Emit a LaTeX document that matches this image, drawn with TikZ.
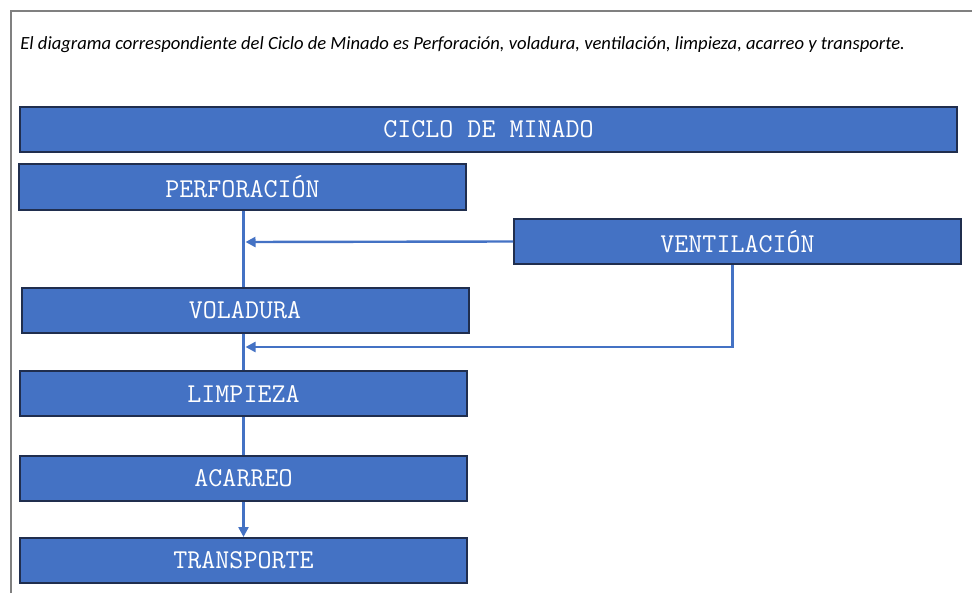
\documentclass[tikz,border=0pt]{standalone}
\usepackage{fontspec}
\usepackage{xcolor}
\usepackage{tikz}
\usetikzlibrary{arrows.meta, positioning, calc}
\newfontfamily\captionfont{Carlito}
\definecolor{officeblue}{RGB}{68, 114, 196}
\definecolor{darknavy}{RGB}{32, 46, 78}
\definecolor{framegray}{RGB}{128, 128, 128}
\tikzstyle{stage} = [
    rectangle,
    minimum width=223.5pt,
    minimum height=22.5pt,
    inner sep=0pt,
    text centered,
    draw=darknavy,
    line width=1pt,
    fill=officeblue,
    text=white,
    font=\ttfamily\fontsize{13.6}{15}\selectfont
]
\tikzstyle{link} = [
    line width=1.2pt,
    color=officeblue
]
\tikzstyle{arrow} = [
    link,
    -{Triangle[length=5pt, width=5pt]}
]

\begin{document}
\begin{tikzpicture}[x=0.5pt, y=-0.5pt]
        \useasboundingbox (0,0) rectangle (972,593);
        % Frame
        \draw[framegray, line width=1pt] (11,593) -- (11,11) -- (972,11);
        
        % Caption
        \node[anchor=west, inner sep=0pt, font=\captionfont\itshape\fontsize{9.3}{11}\selectfont] (caption) at (20,45)
            {El diagrama correspondiente del Ciclo de Minado es Perforación, voladura, ventilación, limpieza, acarreo y transporte.};
        
        % Title bar
        \node[stage, minimum width=468.5pt] (ciclo) at (488.5,129.5) {CICLO DE MINADO};
        
        % Stages
        \node[stage] (perf) at (242.5,187) {PERFORACIÓN};
        \node[stage] (vent) at (737.5,241.5) {VENTILACIÓN};
        \node[stage] (volad) at (245,310.5) {VOLADURA};
        \node[stage] (limp) at (243.5,393.5) {LIMPIEZA};
        \node[stage] (acarr) at (243.5,478.5) {ACARREO};
        \node[stage] (transp) at (243.5,560.5) {TRANSPORTE};
        
        % Junctions on the spine
        \coordinate (j1) at (243.5,242);
        \coordinate (j2) at (243.5,347);
        
        % Spine
        \draw[link] (perf.south -| j1) -- (volad.north -| j1);
        \draw[link] (volad.south -| j2) -- (limp.north -| j2);
        \draw[link] (limp) -- (acarr);
        \draw[arrow] (acarr) -- (transp);
        
        % Ventilation
        \draw[arrow] (vent.west) -- ([xshift=1pt]j1);
        \draw[arrow] ([xshift=-2.5]vent.south) |- ([xshift=1pt]j2);
    \end{tikzpicture}
\end{document}
